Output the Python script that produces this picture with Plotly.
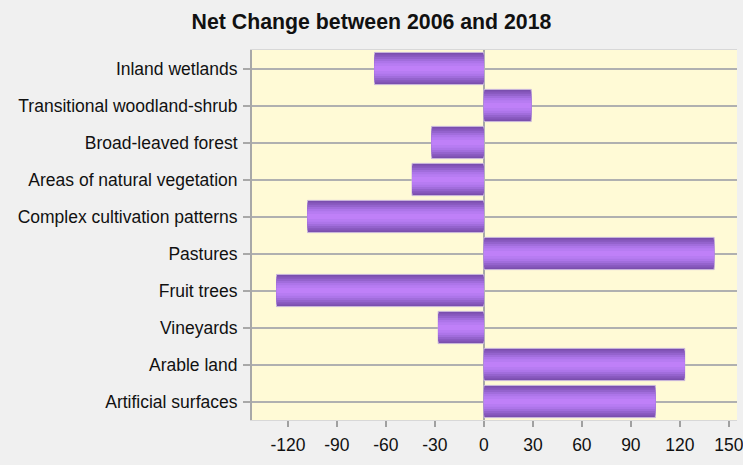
import plotly.graph_objects as go

categories = ["Inland wetlands", "Transitional woodland-shrub", "Broad-leaved forest",
              "Areas of natural vegetation", "Complex cultivation patterns", "Pastures",
              "Fruit trees", "Vineyards", "Arable land", "Artificial surfaces"]
values = [-67, 29, -32, -44, -108, 141, -127, -28, 123, 105]
tick_vals = [-120, -90, -60, -30, 0, 30, 60, 90, 120, 150]
tick_text = ["-120", "-90", "-60", "-30", "0", "30", "60", "90", "120", "150"]

# gradient simulation layers (width, colour)
layers = [(0.87, "#7a4fae"), (0.76, "#8758bd"), (0.64, "#9463cd"),
          (0.52, "#a16ddc"), (0.40, "#ad75e9"), (0.28, "#b77cf2"), (0.14, "#bf80f8")]

fig = go.Figure()
for i, (w, c) in enumerate(layers):
    fig.add_trace(go.Bar(
        x=values, y=categories, orientation="h", width=w,
        marker=dict(color=c, line=dict(width=1 if i == 0 else 0, color="#c9b6dc")),
        showlegend=False, hoverinfo="x+y" if i == 0 else "skip"))

fig.update_layout(
    width=743, height=465,
    barmode="overlay",
    paper_bgcolor="#f0f0f0", plot_bgcolor="#fffad6",
    margin=dict(l=252, r=6, t=50, b=45, autoexpand=False),
    title=dict(text="<b>Net Change between 2006 and 2018</b>", x=0.5, xref="container",
               xanchor="center", y=1 - 22 / 465, yref="container", yanchor="middle",
               font=dict(family="Liberation Sans, Arial", size=21.3, color="#111111")),
    font=dict(family="Liberation Sans, Arial", size=17.5, color="#111111"),
)
fig.update_xaxes(
    range=[-142, 155], autorange=False, automargin=False,
    tickvals=tick_vals, ticktext=tick_text, ticks="outside", ticklen=6,
    tickcolor="#a0a0a0", tickwidth=2, showgrid=False, zeroline=True,
    zerolinecolor="#a8a8a8", zerolinewidth=2,
    showline=True, linecolor="#d8d8d8", linewidth=1, mirror=True,
    ticklabelstandoff=3, ticklabeloverflow="allow")
fig.update_yaxes(
    categoryorder="array", categoryarray=categories[::-1], range=[-0.5, 9.5],
    autorange=False, automargin=False,
    ticks="outside", ticklen=7, tickcolor="#a8a8a8", tickwidth=2,
    showgrid=True, gridcolor="#b0b0b0", gridwidth=2,
    showline=True, linecolor="#a8a8a8", linewidth=2, ticklabelstandoff=2)

fig.write_html("out.html")
